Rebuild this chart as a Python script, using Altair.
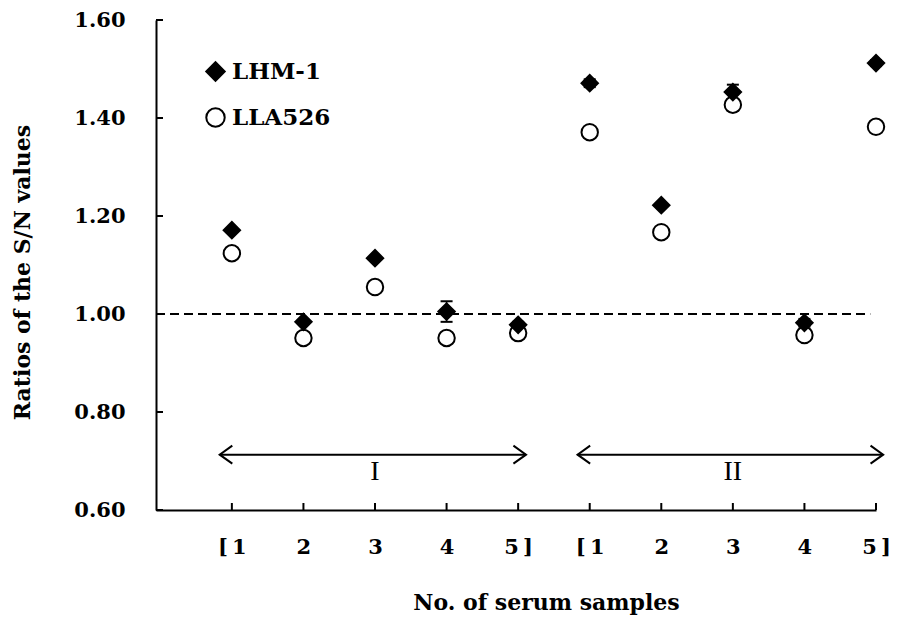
import json
import altair as alt
import pandas as pd

# ---- data ----
samples = ["[\u20091", "2", "3", "4", "5\u2009]", "[\u20091", "2", "3", "4", "5\u2009]"]
positions = list(range(10))
series_names = ["LHM-1", "LLA526"]
lhm1 = [1.171, 0.984, 1.114, 1.005, 0.978, 1.471, 1.222, 1.453, 0.982, 1.512]
lhm1_err = [0.004, 0.004, 0.004, 0.021, 0.006, 0.008, 0.004, 0.015, 0.008, 0.006]
lla526 = [1.124, 0.951, 1.055, 0.951, 0.961, 1.371, 1.167, 1.427, 0.957, 1.382]
lla526_err = [0.004, 0.004, 0.004, 0.004, 0.004, 0.006, 0.004, 0.012, 0.004, 0.004]
y_ticks = [0.6, 0.8, 1.0, 1.2, 1.4, 1.6]
reference_value = 1.00
reference_span = [-1.06, 8.92]
groups = ["I", "II"]
group_start = [-0.17, 4.83]
group_end = [4.11, 9.10]
group_mid = [2, 7]
arrow_y = 0.713
group_label_y = 0.678

# ---- tables ----
rows = []
for name, vals, errs in [("LLA526", lla526, lla526_err), ("LHM-1", lhm1, lhm1_err)]:
    for p, v, e in zip(positions, vals, errs):
        rows.append({"series": name, "pos": p, "value": v, "err": e,
                     "lo": v - e, "hi": v + e})
df = pd.DataFrame(rows)
df_err = df[df["err"] > 0.005].copy()
df_caps = pd.concat([
    df_err.assign(cap=df_err["lo"]),
    df_err.assign(cap=df_err["hi"]),
])
df_yt = pd.DataFrame({"value": y_ticks})
df_xt = pd.DataFrame({"pos": positions})
df_ref = pd.DataFrame({"value": [reference_value], "start": [reference_span[0]], "end": [reference_span[1]]})
df_arr = pd.DataFrame({"group": groups, "start": group_start, "end": group_end,
                       "mid": group_mid, "ay": [arrow_y] * 2, "ly": [group_label_y] * 2})

FONT = "DejaVu Serif"
xscale = alt.Scale(domain=[-1.06, 9], nice=False, zero=False)
yscale = alt.Scale(domain=[0.6, 1.6], nice=False, zero=False)

x_axis = alt.Axis(
    values=positions, labelExpr=json.dumps(samples) + "[datum.value]",
    title="No. of serum samples", titleFont=FONT, titleFontWeight="bold", titleFontSize=22,
    titleColor="black", titleX=390, titleY=99, titleBaseline="alphabetic",
    labelFont=FONT, labelFontSize=21, labelFontWeight="bold", labelColor="black",
    labelPadding=26, ticks=False, tickSize=0, domainColor="black", domainWidth=2,
    grid=False, labelFlush=False, labelOverlap=False,
)
y_axis = alt.Axis(
    values=y_ticks, format=".2f",
    title="Ratios of the S/N values", titleFont=FONT, titleFontWeight="bold", titleFontSize=22,
    titleColor="black", titleX=-134, titleY=252, titleBaseline="middle",
    labelFont=FONT, labelFontSize=21, labelFontWeight="bold", labelColor="black",
    labelPadding=31, ticks=False, tickSize=0, domainColor="black", domainWidth=2,
    grid=False, labelFlush=False, labelOverlap=False,
)


def X(field):
    return alt.X(f"{field}:Q", scale=xscale, axis=x_axis)


def Y(field):
    return alt.Y(f"{field}:Q", scale=yscale, axis=y_axis)


leg = alt.Legend(title=None, orient="none", legendX=48, legendY=40, padding=0,
                 labelFont=FONT, labelFontWeight="bold", labelFontSize=23, labelColor="black",
                 labelOffset=5, rowPadding=19, symbolSize=340,
                 symbolStrokeColor="black", symbolStrokeWidth=2)

points = alt.Chart(df).mark_point(filled=False, strokeWidth=2, opacity=1, size=270).encode(
    x=X("pos"), y=Y("value"),
    shape=alt.Shape("series:N", scale=alt.Scale(domain=series_names, range=["diamond", "circle"]), legend=leg),
    fill=alt.Fill("series:N", scale=alt.Scale(domain=series_names, range=["black", "white"]), legend=leg),
    stroke=alt.Stroke("series:N", scale=alt.Scale(domain=series_names, range=["black", "black"]), legend=leg),
)

err_rules = alt.Chart(df_err).mark_rule(color="black", strokeWidth=1.5).encode(
    x=X("pos"), y=Y("lo"), y2="hi")
err_caps = alt.Chart(df_caps).mark_tick(orient="horizontal", size=12, thickness=2, color="black", opacity=1).encode(
    x=X("pos"), y=Y("cap"))

y_ticks_layer = alt.Chart(df_yt).mark_rule(color="black", strokeWidth=2).encode(
    y=Y("value"), x=alt.value(0), x2=alt.value(7))
x_ticks_layer = alt.Chart(df_xt).mark_rule(color="black", strokeWidth=2).encode(
    x=X("pos"), y=alt.value(490), y2=alt.value(483))

ref = alt.Chart(df_ref).mark_rule(color="black", strokeWidth=2, strokeDash=[9, 5]).encode(
    x=X("start"), x2="end", y=Y("value"))

arrow_line = alt.Chart(df_arr).mark_rule(color="black", strokeWidth=2).encode(
    x=X("start"), x2="end", y=Y("ay"))
head_left = alt.Chart(df_arr).mark_point(shape="M1.4,-1L0,0L1.4,1", size=324, filled=False,
                                         color="black", strokeWidth=2, opacity=1).encode(
    x=X("start"), y=Y("ay"))
head_right = alt.Chart(df_arr).mark_point(shape="M-1.4,-1L0,0L-1.4,1", size=324, filled=False,
                                          color="black", strokeWidth=2, opacity=1).encode(
    x=X("end"), y=Y("ay"))
group_text = alt.Chart(df_arr).mark_text(font="Liberation Serif", fontSize=28, color="black",
                                         baseline="middle").encode(
    x=X("mid"), y=Y("ly"), text="group:N")

chart = alt.layer(
    ref, y_ticks_layer, x_ticks_layer, arrow_line, head_left, head_right, group_text,
    err_rules, err_caps, points,
).properties(
    width=720, height=490,
    padding={"left": 148, "top": 12, "right": 18, "bottom": 108},
    autosize=alt.AutoSizeParams(type="none"),
    background="white",
).configure_view(stroke=None)

chart.save("out.html", embed_options={"renderer": "svg", "actions": False})
